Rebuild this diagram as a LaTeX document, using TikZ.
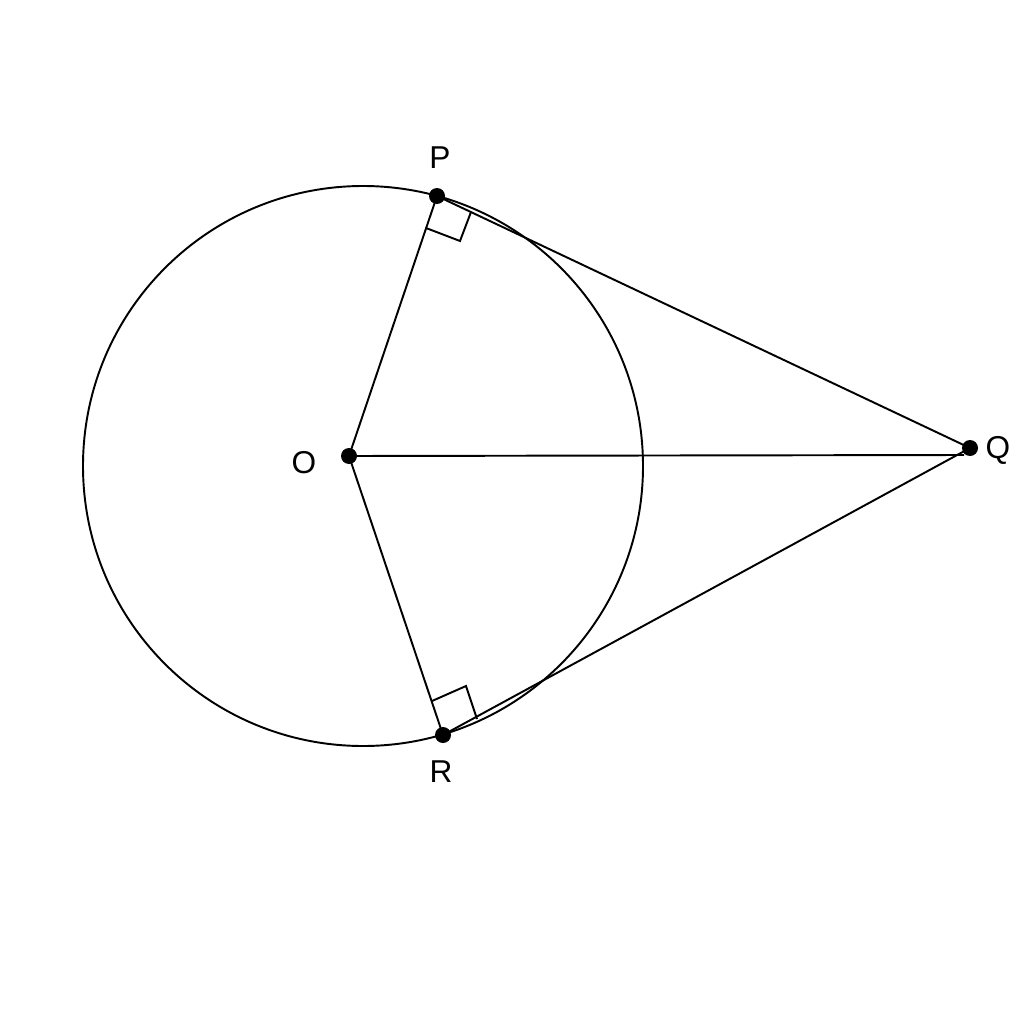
\documentclass[tikz,border=0pt]{standalone}
\usepackage{fontspec}
\setmainfont{Liberation Sans}
\begin{document}
\begin{tikzpicture}[x=0.02cm,y=-0.02cm,
  geo/.style={line width=1.1pt,black},
  dotpt/.style={circle,fill=black,inner sep=0pt,minimum size=0.32cm},
  lbl/.style={font=\fontsize{18}{20}\selectfont}]
\useasboundingbox[fill=white] (0,0) rectangle (1024,1024);
\coordinate (C) at (363,466);
\node[dotpt] (P) at (437,196) {};
\node[dotpt] (R) at (443,735) {};
\node[dotpt] (O) at (349,456) {};
\node[dotpt] (Q) at (970,448) {};
\coordinate (Qe) at (964,455);
\draw[geo] (C) circle (280);
\draw[geo] (O.center) -- (P.center) -- (Q.center) -- (R.center) -- (O.center);
\draw[geo] (O.center) -- (Qe);
% right angle marks
\coordinate (p1) at (426,228);
\coordinate (p2) at (460,241);
\coordinate (p3) at (471,212);
\draw[geo] (p1) -- (p2) -- (p3);
\coordinate (r1) at (432,701);
\coordinate (r2) at (466,686);
\coordinate (r3) at (477,719);
\draw[geo] (r1) -- (r2) -- (r3);
\node[lbl] (lP) at (440,158) {P};
\node[lbl] (lR) at (441,772) {R};
\node[lbl] (lO) at (304,463) {O};
\node[lbl] (lQ) at (998,450) {Q};
\end{tikzpicture}
\end{document}
